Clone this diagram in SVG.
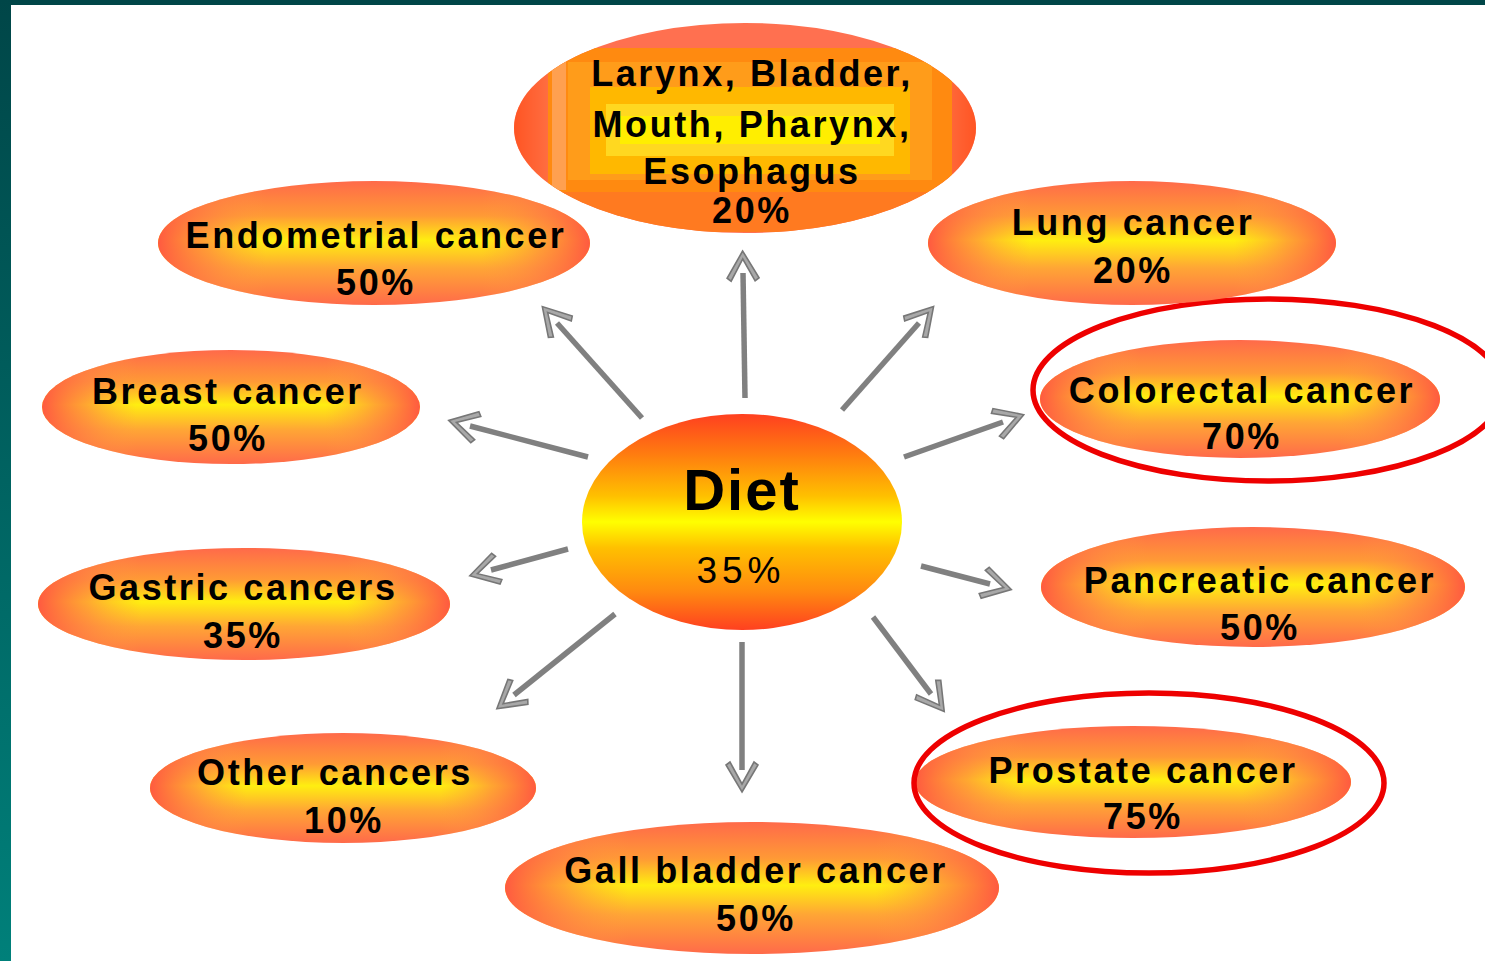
<svg xmlns="http://www.w3.org/2000/svg" width="1485" height="961" viewBox="0 0 1485 961">
<style>
.t{font-family:"Liberation Sans",Arial,sans-serif;font-weight:bold;font-size:36px;letter-spacing:2.6px;text-anchor:middle;fill:#000}
.nv{fill:url(#gv)}
.nh{fill:url(#gh)}
.ring{fill:none;stroke:#ee0000;stroke-width:5.5}
.c line{stroke:#808080;stroke-width:5.5;marker-end:url(#ah)}
</style>
<defs>
<linearGradient id="gv" x1="0" y1="0" x2="0" y2="1">
<stop offset="0" stop-color="#ff6a4a"/>
<stop offset="0.28" stop-color="#ff9a35"/>
<stop offset="0.48" stop-color="#ffee10"/>
<stop offset="0.7" stop-color="#ffa635"/>
<stop offset="1" stop-color="#ff6a4a"/>
</linearGradient>
<linearGradient id="gh" x1="0" y1="0" x2="1" y2="0">
<stop offset="0" stop-color="#ff5a40" stop-opacity="1"/>
<stop offset="0.12" stop-color="#ff7a45" stop-opacity="0.6"/>
<stop offset="0.25" stop-color="#ff9a40" stop-opacity="0"/>
<stop offset="0.75" stop-color="#ff9a40" stop-opacity="0"/>
<stop offset="0.88" stop-color="#ff7a45" stop-opacity="0.6"/>
<stop offset="1" stop-color="#ff5a40" stop-opacity="1"/>
</linearGradient>
<linearGradient id="gd" x1="0" y1="0" x2="0" y2="1">
<stop offset="0" stop-color="#ff4020"/>
<stop offset="0.18" stop-color="#ff7a10"/>
<stop offset="0.38" stop-color="#ffc000"/>
<stop offset="0.5" stop-color="#ffff00"/>
<stop offset="0.62" stop-color="#ffc000"/>
<stop offset="0.82" stop-color="#ff8a10"/>
<stop offset="1" stop-color="#ff4020"/>
</linearGradient>
<linearGradient id="gbar" x1="0" y1="0" x2="0" y2="1">
<stop offset="0" stop-color="#004648"/>
<stop offset="1" stop-color="#00807a"/>
</linearGradient>
<linearGradient id="gtop" x1="0" y1="0" x2="1" y2="0">
<stop offset="0" stop-color="#ff3a10"/>
<stop offset="0.08" stop-color="#ff7050"/>
<stop offset="0.92" stop-color="#ff7050"/>
<stop offset="1" stop-color="#ff3a10"/>
</linearGradient>
<clipPath id="ctop"><ellipse cx="745" cy="128" rx="231" ry="105"/></clipPath>
<marker id="ah" markerUnits="userSpaceOnUse" orient="auto" refX="0" refY="0" markerWidth="40" markerHeight="40" overflow="visible">
<path d="M22,0 L-5,-16 L-8,-12 L14,0 L-8,12 L-5,16 Z" fill="#a8a8a8" stroke="#777" stroke-width="1.6" stroke-linejoin="miter"/>
</marker>
</defs>
<rect width="1485" height="961" fill="#fff"/>
<rect x="0" y="0" width="1485" height="5" fill="#004648"/>
<rect x="0" y="0" width="11" height="961" fill="url(#gbar)"/>

<g class="c" id="connectors">
<line x1="745" y1="398" x2="743" y2="273"/>
<line x1="642" y1="418" x2="557" y2="323"/>
<line x1="588" y1="457" x2="470" y2="426"/>
<line x1="568" y1="549" x2="491" y2="570"/>
<line x1="615" y1="614" x2="514" y2="695"/>
<line x1="742" y1="642" x2="742" y2="770"/>
<line x1="873" y1="617" x2="931" y2="694"/>
<line x1="921" y1="566" x2="990" y2="584"/>
<line x1="904" y1="457" x2="1003" y2="422"/>
<line x1="842" y1="410" x2="919" y2="323"/>
</g>

<g id="n-top">
<g clip-path="url(#ctop)">
<rect x="510" y="20" width="470" height="220" fill="url(#gtop)"/>
<rect x="514" y="48" width="462" height="146" fill="#ff6a30" opacity="0.5"/>
<rect x="548" y="48" width="404" height="146" fill="#ff8a10"/>
<rect x="552" y="52" width="14" height="138" fill="#ffa050"/>
<rect x="568" y="62" width="364" height="118" fill="#ff9c1a"/>
<rect x="590" y="87" width="320" height="87" fill="#ffb800"/>
<rect x="606" y="104" width="288" height="52" fill="#ffd820"/>
<rect x="620" y="116" width="260" height="28" fill="#ffee00"/>
<rect x="548" y="192" width="404" height="40" fill="#ff7a20"/>
</g>
<text class="t" x="752" y="86">Larynx, Bladder,</text>
<text class="t" x="752" y="137">Mouth, Pharynx,</text>
<text class="t" x="752" y="184">Esophagus</text>
<text class="t" x="752" y="223">20%</text>
</g>

<g id="n-endometrial">
<ellipse class="nv" cx="374" cy="243" rx="216" ry="62"/>
<ellipse class="nh" cx="374" cy="243" rx="216" ry="62"/>
<text class="t" x="376" y="248">Endometrial cancer</text>
<text class="t" x="376" y="295">50%</text>
</g>

<g id="n-breast">
<ellipse class="nv" cx="231" cy="407" rx="189" ry="57"/>
<ellipse class="nh" cx="231" cy="407" rx="189" ry="57"/>
<text class="t" x="228" y="404">Breast cancer</text>
<text class="t" x="228" y="451">50%</text>
</g>

<g id="n-gastric">
<ellipse class="nv" cx="244" cy="604" rx="206" ry="56"/>
<ellipse class="nh" cx="244" cy="604" rx="206" ry="56"/>
<text class="t" x="243" y="600">Gastric cancers</text>
<text class="t" x="243" y="648">35%</text>
</g>

<g id="n-other">
<ellipse class="nv" cx="343" cy="788" rx="193" ry="55"/>
<ellipse class="nh" cx="343" cy="788" rx="193" ry="55"/>
<text class="t" x="335" y="785">Other cancers</text>
<text class="t" x="344" y="833">10%</text>
</g>

<g id="n-gall">
<ellipse class="nv" cx="752" cy="888" rx="247" ry="66"/>
<ellipse class="nh" cx="752" cy="888" rx="247" ry="66"/>
<text class="t" x="756" y="883">Gall bladder cancer</text>
<text class="t" x="756" y="931">50%</text>
</g>

<g id="n-prostate">
<ellipse class="nv" cx="1133" cy="782" rx="218" ry="56"/>
<ellipse class="nh" cx="1133" cy="782" rx="218" ry="56"/>
<text class="t" x="1143" y="783">Prostate cancer</text>
<text class="t" x="1143" y="829">75%</text>
<ellipse class="ring" cx="1149" cy="783" rx="235" ry="90"/>
</g>

<g id="n-pancreatic">
<ellipse class="nv" cx="1253" cy="587" rx="212" ry="60"/>
<ellipse class="nh" cx="1253" cy="587" rx="212" ry="60"/>
<text class="t" x="1260" y="593">Pancreatic cancer</text>
<text class="t" x="1260" y="640">50%</text>
</g>

<g id="n-colorectal">
<ellipse class="nv" cx="1240" cy="399" rx="200" ry="59"/>
<ellipse class="nh" cx="1240" cy="399" rx="200" ry="59"/>
<text class="t" x="1242" y="403">Colorectal cancer</text>
<text class="t" x="1242" y="449">70%</text>
<ellipse class="ring" cx="1268" cy="390" rx="235" ry="91"/>
</g>

<g id="n-lung">
<ellipse class="nv" cx="1132" cy="243" rx="204" ry="62"/>
<ellipse class="nh" cx="1132" cy="243" rx="204" ry="62"/>
<text class="t" x="1133" y="235">Lung cancer</text>
<text class="t" x="1133" y="283">20%</text>
</g>

<g id="n-diet">
<ellipse cx="742" cy="522" rx="160" ry="108" fill="url(#gd)"/>
<text x="742" y="510" font-family="Liberation Sans,Arial,sans-serif" font-weight="bold" font-size="58" letter-spacing="2" text-anchor="middle" fill="#000">Diet</text>
<text x="741" y="583" font-family="Liberation Sans,Arial,sans-serif" font-size="37" letter-spacing="5" text-anchor="middle" fill="#000">35%</text>
</g>
</svg>
